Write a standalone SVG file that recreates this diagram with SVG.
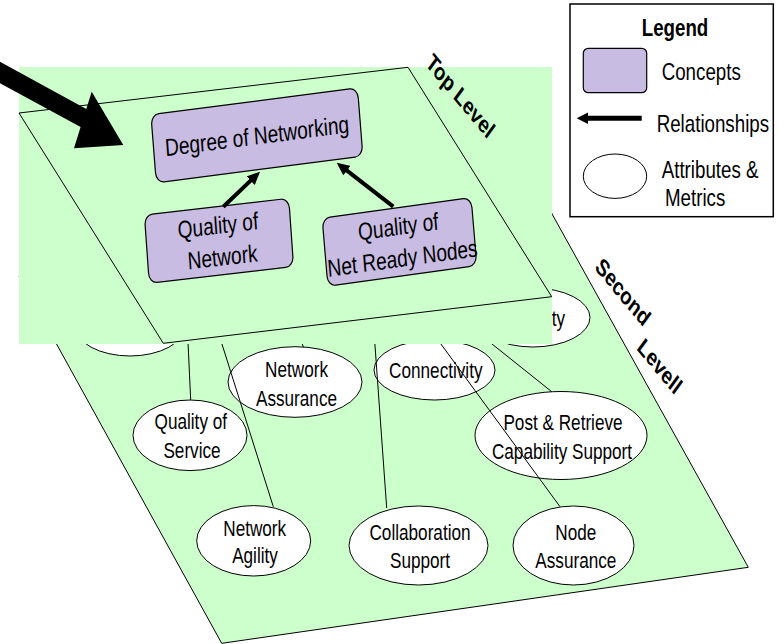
<svg xmlns="http://www.w3.org/2000/svg" width="779" height="644" viewBox="0 0 779 644">
<defs>
<style>
.plane{fill:#CCFFCC;stroke:#000;stroke-width:1}
.ell{fill:#fff;stroke:#000;stroke-width:1}
.box{fill:#C8BCE3;stroke:#000;stroke-width:1.2}
.conn{stroke:#000;stroke-width:1;fill:none}
.rel{stroke:#000;stroke-width:4;fill:none}
.t2{font-family:"Liberation Sans",Arial,sans-serif;font-size:22px;fill:#000;text-anchor:middle}
.t1{font-family:"Liberation Sans",Arial,sans-serif;font-size:24.5px;fill:#000;text-anchor:middle}
.tl{font-family:"Liberation Sans",Arial,sans-serif;font-size:24px;fill:#000}
.tb{font-family:"Liberation Sans",Arial,sans-serif;font-size:24px;font-weight:bold;fill:#000;text-anchor:middle}
</style>
<marker id="ah" markerUnits="userSpaceOnUse" markerWidth="14" markerHeight="12" refX="4" refY="6" orient="auto" viewBox="0 0 14 12">
<path d="M0,0 L13,6 L0,12 z" fill="#000"/>
</marker>
</defs>

<!-- Second level plane -->
<g id="second-level">
<path class="plane" d="M19,276 L544.4,200.2 L748.3,567.3 L221.7,643.3 Z"/>
</g>

<g id="node-hidden-left"><ellipse class="ell" cx="130" cy="326" rx="55" ry="30"/></g>
<g id="node-ty"><ellipse class="ell" cx="533" cy="317.5" rx="57" ry="29.5"/>
<text class="t2" style="text-anchor:end" transform="matrix(0.78 0 0 1 565 326)">ty</text></g>

<g id="node-quality-of-service"><ellipse class="ell" cx="190" cy="435.3" rx="57" ry="35.3"/>
<text class="t2" transform="matrix(0.78 0 0 1 190.8 429)">Quality of</text>
<text class="t2" transform="matrix(0.78 0 0 1 192 458.3)">Service</text></g>

<g id="node-network-agility"><ellipse class="ell" cx="253.7" cy="540.8" rx="57" ry="35.2"/>
<text class="t2" transform="matrix(0.78 0 0 1 254.7 536)">Network</text>
<text class="t2" transform="matrix(0.78 0 0 1 255 563)">Agility</text></g>

<g id="node-network-assurance"><ellipse class="ell" cx="295" cy="382" rx="67" ry="35.3"/>
<text class="t2" transform="matrix(0.78 0 0 1 296.5 377.3)">Network</text>
<text class="t2" transform="matrix(0.78 0 0 1 296.5 405.7)">Assurance</text></g>

<g id="node-collaboration-support"><ellipse class="ell" cx="418.5" cy="545.5" rx="69.5" ry="39.5"/>
<text class="t2" transform="matrix(0.78 0 0 1 420 540)">Collaboration</text>
<text class="t2" transform="matrix(0.78 0 0 1 420 567.5)">Support</text></g>

<g id="node-node-assurance"><ellipse class="ell" cx="573.5" cy="545.5" rx="60.5" ry="39.5"/>
<text class="t2" transform="matrix(0.78 0 0 1 575.8 540)">Node</text>
<text class="t2" transform="matrix(0.78 0 0 1 575.8 568)">Assurance</text></g>

<g id="node-post-retrieve"><ellipse class="ell" cx="561" cy="435.5" rx="86" ry="44"/>
<text class="t2" transform="matrix(0.78 0 0 1 563 430)">Post &amp; Retrieve</text>
<text class="t2" transform="matrix(0.78 0 0 1 562 459)">Capability Support</text></g>

<g id="node-connectivity"><ellipse class="ell" cx="434.5" cy="370" rx="60.5" ry="30"/>
<text class="t2" transform="matrix(0.78 0 0 1 435.8 378)">Connectivity</text></g>

<!-- connectors from second level -->
<g id="connectors-second">
<line class="conn" x1="187.8" y1="338" x2="190.7" y2="400"/>
<line class="conn" x1="220.7" y1="340" x2="273.3" y2="506.7"/>
<line class="conn" x1="299.5" y1="338" x2="303.5" y2="347"/>
<line class="conn" x1="374.6" y1="340" x2="386.7" y2="508"/>
<line class="conn" x1="438" y1="340" x2="560" y2="506.7"/>
<line class="conn" x1="487" y1="340" x2="551.7" y2="391.7"/>
</g>

<!-- top level backdrop and plane -->
<rect x="19" y="67" width="533" height="277" fill="#CCFFCC"/>
<g id="top-level">
<path class="plane" d="M19,113 L408,67.3 L551.7,296.7 L163.3,343.3 Z"/>
</g>

<g id="node-degree-of-networking" transform="translate(256.9,135.4) scale(0.78,1) rotate(-5.76)">
<rect class="box" x="-133.1" y="-34.25" width="266.2" height="68.5" rx="10" vector-effect="non-scaling-stroke"/>
<text class="t1" x="0" y="9">Degree of Networking</text>
</g>

<g id="node-quality-of-network" transform="translate(219,240.8) scale(0.78,1) rotate(-5.16)">
<rect class="box" x="-92.9" y="-34.25" width="185.8" height="68.5" rx="10" vector-effect="non-scaling-stroke"/>
<text class="t1" x="0" y="-7">Quality of</text>
<text class="t1" x="3" y="25">Network</text>
</g>

<g id="node-quality-of-net-ready-nodes" transform="translate(399.5,241.9) scale(0.78,1) rotate(-6.16)">
<rect class="box" x="-96.05" y="-34.25" width="192.1" height="68.5" rx="10" vector-effect="non-scaling-stroke"/>
<text class="t1" x="0" y="-7">Quality of</text>
<text class="t1" x="2" y="25">Net Ready Nodes</text>
</g>

<g id="connectors-top">
<line class="rel" x1="223.3" y1="206.7" x2="253.5" y2="177.9" marker-end="url(#ah)"/>
<line class="rel" x1="393.3" y1="206.7" x2="343.8" y2="168.2" marker-end="url(#ah)"/>
</g>

<!-- big pointer arrow -->
<g id="pointer-arrow">
<polygon points="-5,59 86.3,109 91.7,91.7 123.3,145 74,148.3 80.6,127.1 -5,80.6" fill="#000"/>
</g>

<!-- level labels -->
<g id="label-top-level" transform="matrix(0.78 0 0 1 460.7 95.7)">
<text class="tb" transform="rotate(43)" x="0" y="8.6">Top Level</text>
</g>
<g id="label-second-level">
<g transform="matrix(0.78 0 0 1 623.3 291.7)"><text class="tb" transform="rotate(43)" x="0" y="8.6">Second</text></g>
<g transform="matrix(0.78 0 0 1 660 366)"><text class="tb" transform="rotate(43)" x="0" y="8.6">Levell</text></g>
</g>

<!-- legend -->
<g id="legend">
<rect x="570" y="4" width="203.3" height="212.7" fill="#fff" stroke="#000" stroke-width="1.5"/>
<text class="tb" transform="matrix(0.78 0 0 1 675 36)">Legend</text>
<rect class="box" x="583.3" y="48.3" width="63.4" height="44.4" rx="5"/>
<text class="tl" transform="matrix(0.78 0 0 1 661.7 80)">Concepts</text>
<line x1="586" y1="118.3" x2="641.7" y2="118.3" stroke="#000" stroke-width="5"/>
<polygon points="576.7,118.3 588,112.6 588,124" fill="#000"/>
<text class="tl" transform="matrix(0.78 0 0 1 656.7 131.7)">Relationships</text>
<ellipse class="ell" cx="615" cy="176.2" rx="31.7" ry="22.2"/>
<text class="tl" transform="matrix(0.78 0 0 1 661.7 177.7)">Attributes &amp;</text>
<text class="tl" transform="matrix(0.78 0 0 1 665 206)">Metrics</text>
</g>
</svg>
